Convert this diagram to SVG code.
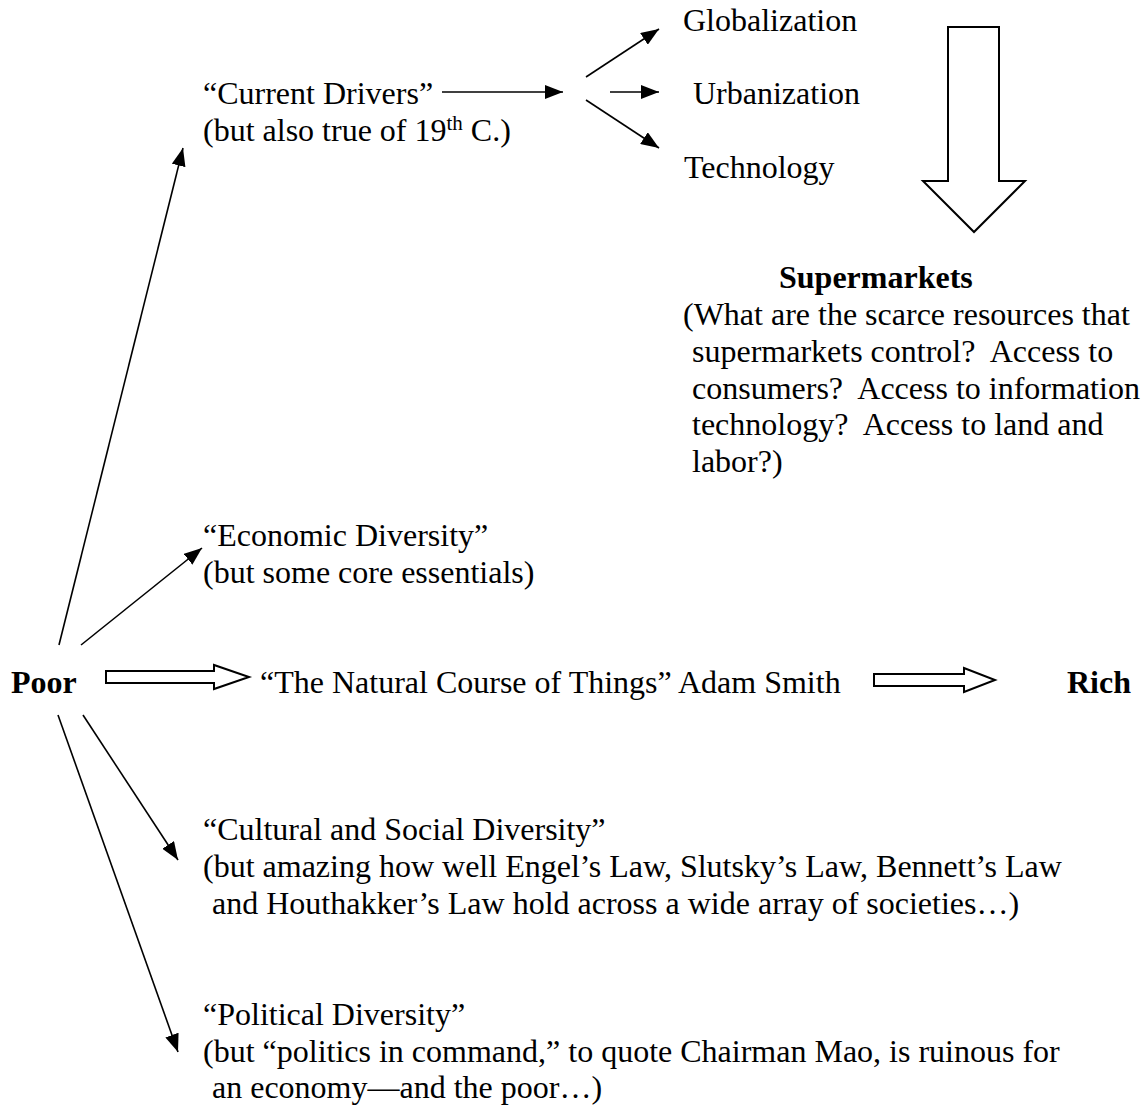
<svg xmlns="http://www.w3.org/2000/svg" width="1147" height="1107" viewBox="0 0 1147 1107">
<style>
text { font-family: "Liberation Serif", "Times New Roman", serif; font-size: 32px; fill: #000; white-space: pre; }
.b { font-weight: bold; }
.sup { font-size: 21px; }
.ln { stroke: #000; stroke-width: 1.6; fill: none; }
.blk { stroke: #000; stroke-width: 2; fill: #fff; stroke-linejoin: miter; }
</style>
<defs>
<marker id="ah" viewBox="0 0 18 14" refX="18" refY="7" markerWidth="18" markerHeight="14" markerUnits="userSpaceOnUse" orient="auto">
<path d="M0,0 L18,7 L0,14 z" fill="#000"/>
</marker>
</defs>
<rect width="1147" height="1107" fill="#fff"/>
<g id="connectors">
<line class="ln" x1="442" y1="92" x2="563" y2="92" marker-end="url(#ah)"/>
<line class="ln" x1="586" y1="77" x2="659" y2="29" marker-end="url(#ah)"/>
<line class="ln" x1="610" y1="92" x2="659" y2="92" marker-end="url(#ah)"/>
<line class="ln" x1="586" y1="100" x2="659" y2="148" marker-end="url(#ah)"/>
<line class="ln" x1="59" y1="645" x2="183" y2="148" marker-end="url(#ah)"/>
<line class="ln" x1="81" y1="645" x2="202" y2="548" marker-end="url(#ah)"/>
<line class="ln" x1="83" y1="715" x2="178" y2="860" marker-end="url(#ah)"/>
<line class="ln" x1="58" y1="715" x2="178" y2="1052" marker-end="url(#ah)"/>
<polygon class="blk" points="948,27 999,27 999,181 1025,181 974,232 923,181 948,181"/>
<polygon class="blk" points="106,671 214,671 214,665 249,677 214,689 214,683 106,683"/>
<polygon class="blk" points="874,674 964,674 964,668 995,680 964,692 964,686 874,686"/>
</g>
<g id="poor"><text class="b" x="11" y="693">Poor</text></g>
<g id="rich"><text class="b" x="1067" y="693">Rich</text></g>
<g id="natural-course"><text x="260" y="693">“The Natural Course of Things” Adam Smith</text></g>
<g id="current-drivers">
<text x="203" y="104">“Current Drivers”</text>
<text x="203" y="141">(but also true of 19<tspan class="sup" dy="-11">th</tspan><tspan dy="11"> C.)</tspan></text>
</g>
<g id="globalization"><text x="683" y="31">Globalization</text></g>
<g id="urbanization"><text x="693" y="104">Urbanization</text></g>
<g id="technology"><text x="684" y="178">Technology</text></g>
<g id="supermarkets">
<text class="b" x="779" y="288">Supermarkets</text>
<text x="683" y="325">(What are the scarce resources that</text>
<text x="692" y="362">supermarkets control?  Access to</text>
<text x="692" y="399">consumers?  Access to information</text>
<text x="692" y="435">technology?  Access to land and</text>
<text x="692" y="472">labor?)</text>
</g>
<g id="economic-diversity">
<text x="203" y="546">“Economic Diversity”</text>
<text x="203" y="583">(but some core essentials)</text>
</g>
<g id="cultural-social-diversity">
<text x="203" y="840">“Cultural and Social Diversity”</text>
<text x="203" y="877">(but amazing how well Engel’s Law, Slutsky’s Law, Bennett’s Law</text>
<text x="212" y="914">and Houthakker’s Law hold across a wide array of societies…)</text>
</g>
<g id="political-diversity">
<text x="203" y="1025">“Political Diversity”</text>
<text x="203" y="1062">(but “politics in command,” to quote Chairman Mao, is ruinous for</text>
<text x="212" y="1098">an economy—and the poor…)</text>
</g>
</svg>
